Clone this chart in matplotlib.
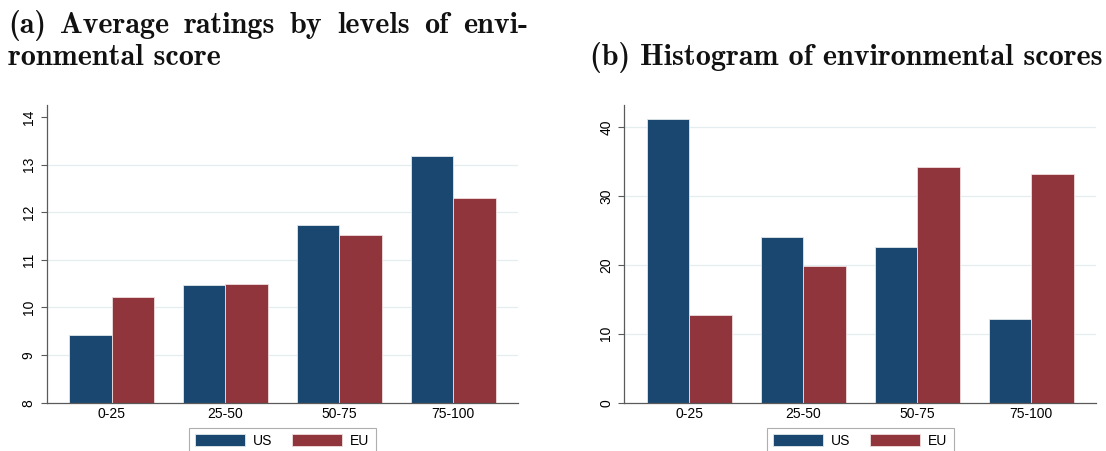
import matplotlib.pyplot as plt
import numpy as np

categories = ['0-25', '25-50', '50-75', '75-100']
ratings_us = [9.43, 10.48, 11.73, 13.19]
ratings_eu = [10.22, 10.50, 11.52, 12.29]
hist_us = [41.2, 24.05, 22.65, 12.15]
hist_eu = [12.8, 19.8, 34.2, 33.2]

navy = '#1a476f'
maroon = '#90353b'
grid_c = '#e4edef'
axis_c = '#5a5a5a'

plt.rcParams['font.family'] = ['Liberation Sans', 'DejaVu Sans']

fig = plt.figure(figsize=(11.06, 4.51), dpi=100)
ax1 = fig.add_axes([0.0422, 0.1071, 0.4261, 0.660])
ax2 = fig.add_axes([0.5645, 0.1071, 0.4265, 0.660])

x = np.arange(len(categories))
w = 0.373


def draw(ax, us, eu, ylim, yticks, hide_grid):
    ax.bar(x - w / 2, us, w, color=navy, edgecolor='#dfe8ec', linewidth=0.6,
           label='US', zorder=3)
    ax.bar(x + w / 2, eu, w, color=maroon, edgecolor='#f0dede', linewidth=0.6,
           label='EU', zorder=3)
    ax.set_xlim(-0.57, 3.57)
    ax.set_ylim(*ylim)
    ax.set_yticks(yticks)
    ax.set_xticks(x)
    ax.set_xticklabels(categories)
    for s in ['top', 'right']:
        ax.spines[s].set_visible(False)
    for s in ['left', 'bottom']:
        ax.spines[s].set_color(axis_c)
        ax.spines[s].set_linewidth(0.9)
        ax.spines[s].set_zorder(4)
    ax.tick_params(axis='y', length=4, width=0.8, color=axis_c, pad=4,
                   labelsize=10, labelrotation=90)
    ax.tick_params(axis='x', length=0, pad=3, labelsize=10)
    for lab in ax.get_yticklabels():
        lab.set_verticalalignment('center')
    ax.yaxis.grid(True, color=grid_c, linewidth=0.9, zorder=0)
    ax.set_axisbelow(True)
    for i in hide_grid:
        ax.get_ygridlines()[i].set_visible(False)
    leg = ax.legend(loc='upper center', bbox_to_anchor=(0.5, -0.084), ncol=2,
                    frameon=True, fancybox=False, edgecolor='#9a9a9a',
                    fontsize=10, handlelength=3.6, handleheight=0.9,
                    handletextpad=0.6, columnspacing=1.4, borderaxespad=0,
                    borderpad=0.45)
    leg.get_frame().set_linewidth(0.8)


draw(ax1, ratings_us, ratings_eu, (8, 14.25), range(8, 15), [0, 6])
draw(ax2, hist_us, hist_eu, (0, 43.2), range(0, 50, 10), [0])

# Titles (Computer Modern bold)
tfont = dict(family='cmb10', fontsize=21.7, color='#111111')
line1 = ['(a)', 'Average', 'ratings', 'by', 'levels', 'of', 'envi-']
texts = [fig.text(0, 1 - 33 / 451, wd, ha='left', va='baseline', **tfont)
         for wd in line1]
fig.canvas.draw()
r = fig.canvas.get_renderer()
widths = [t.get_window_extent(r).width for t in texts]
x0, x1 = 8, 528
gap = (x1 - x0 - sum(widths)) / (len(widths) - 1)
pos = x0
for t, wd in zip(texts, widths):
    t.set_x(pos / 1106)
    pos += wd + gap
fig.text(8 / 1106, 1 - 65 / 451, 'ronmental score', ha='left', va='baseline', **tfont)
fig.text(590 / 1106, 1 - 65 / 451, '(b) Histogram of environmental scores',
         ha='left', va='baseline', **tfont)

fig.savefig('out.png', dpi=100)
